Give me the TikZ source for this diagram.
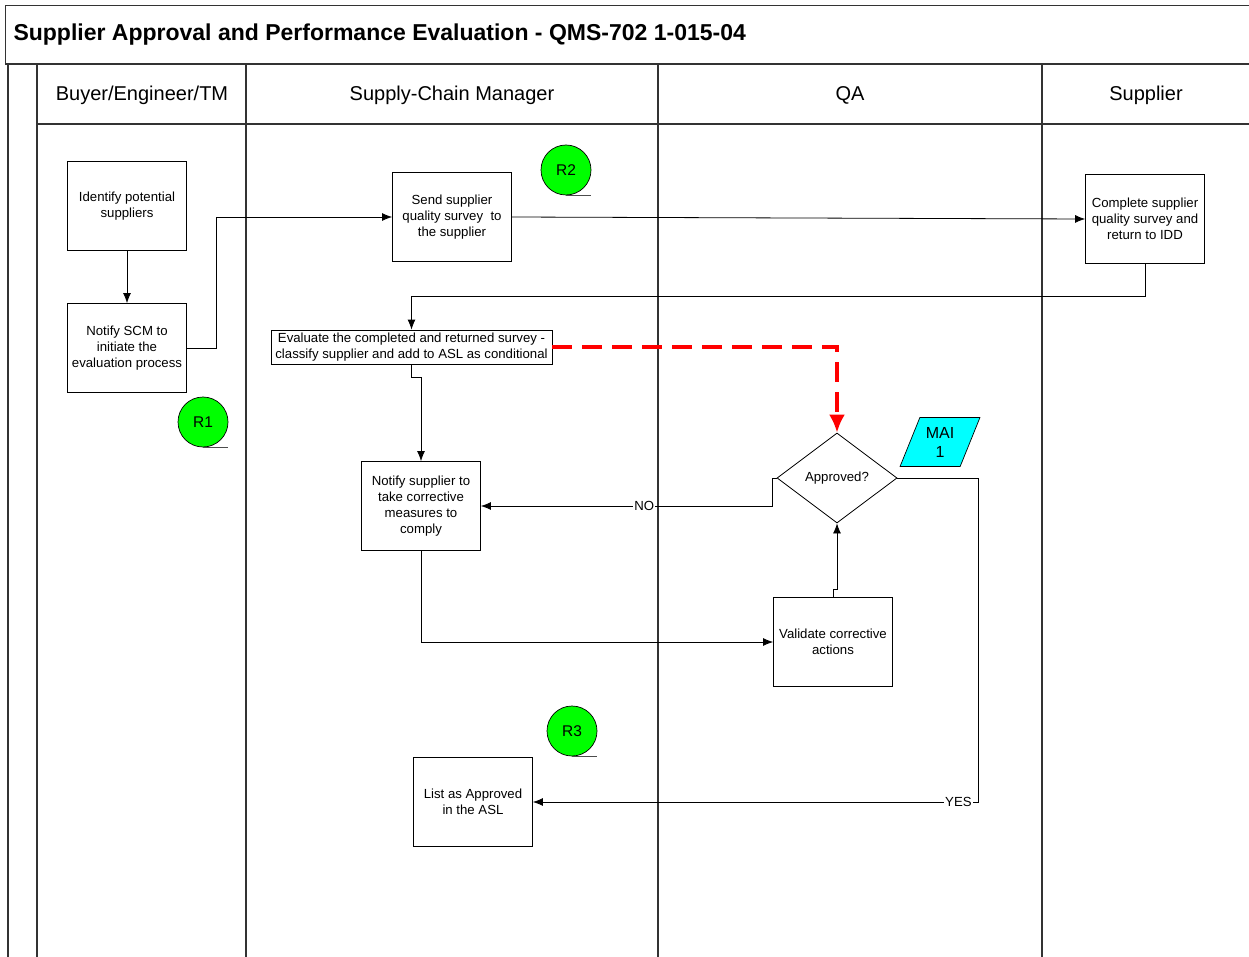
\documentclass[tikz,border=0pt]{standalone}
\usepackage{fontspec}
\setmainfont{Liberation Sans}
\usetikzlibrary{arrows.meta,shapes.geometric}
\definecolor{maicyan}{RGB}{0,255,255}
\definecolor{refgreen}{RGB}{0,255,0}

\begin{document}
\begin{tikzpicture}[x=1pt,y=-1pt,
  lane/.style={line width=1.4pt,color=black!80},
  box/.style={draw,fill=white,line width=0.8pt,minimum width=119pt,minimum height=89pt,
    align=center,inner sep=1pt,font=\fontsize{13.2}{16}\selectfont},
  refmark/.style={circle,draw,fill=refgreen,line width=0.7pt,minimum size=50pt,inner sep=0pt,
    font=\fontsize{15.5}{18}\selectfont},
  arr/.style={-{Latex[length=10pt,width=8pt]},line width=0.8pt},
  lbl/.style={fill=white,inner sep=1pt,font=\fontsize{13.2}{15}\selectfont}]
\useasboundingbox[fill=white] (0,0) rectangle (1249,957);
% frame and lanes
\draw[line width=0.9pt,color=black!80] (5,64) -- (5,5) -- (1249,5);
\draw[line width=1.8pt,color=black!80] (5,64) -- (1249,64);
\draw[lane] (37,124) -- (1249,124);
\foreach \x in {8,37,246,658,1042}
  \draw[lane] (\x,64) -- (\x,957);
\node[anchor=west,font=\fontsize{23}{26}\selectfont\bfseries] (title) at (10,35)
  {Supplier Approval and Performance Evaluation - QMS-702 1-015-04};
\foreach \x/\t in {142/{Buyer/Engineer/TM},452/{Supply-Chain Manager},850/{QA},1146/{Supplier}}
  \node[font=\fontsize{20}{23}\selectfont] at (\x,95) {\t};

% steps
\node[box] (identify) at (127,206) {Identify potential\\suppliers};
\node[box] (notifyscm) at (127,348) {Notify SCM to\\initiate the\\evaluation process};
\node[box] (send) at (452,217) {Send supplier\\quality survey\ \ to\\the supplier};
\node[box] (complete) at (1145,219) {Complete supplier\\quality survey and\\return to IDD};
\node[box,minimum width=281pt,minimum height=34pt] (evaluate) at (411.5,347)
  {Evaluate the completed and returned survey -\\classify supplier and add to ASL as conditional};
\node[diamond,draw,fill=white,line width=0.8pt,aspect=1.33,minimum width=120pt,minimum height=90pt,
  inner sep=0pt,font=\fontsize{13.2}{15}\selectfont] (approved) at (837,478) {Approved?};
\node[trapezium,trapezium left angle=65,trapezium right angle=115,trapezium stretches=true,
  draw,fill=maicyan,line width=0.7pt,minimum width=80pt,minimum height=49pt,inner sep=0pt,
  align=center,font=\fontsize{16}{19}\selectfont] (mai) at (940,442) {MAI\\1};
\node[box] (notifysup) at (421,506) {Notify supplier to\\take corrective\\measures to\\comply};
\node[box] (validate) at (833,642) {Validate corrective\\actions};
\node[box] (listasl) at (473,802) {List as Approved\\in the ASL};

% reference marks
\node[refmark] (r1) at (203,422) {R1};
\node[refmark] (r2) at (566,170) {R2};
\node[refmark] (r3) at (572,731) {R3};
\foreach \r in {r1,r2,r3}
  \draw[line width=0.8pt,color=black!70] (\r.south) -- ++(25,0);

% flow
\draw[arr] (identify) -- (notifyscm);
\draw[arr] (notifyscm.east) -- ++(29,0) |- (send.west);
\draw[arr] (send.east) -- (complete.west);
\draw[arr] (complete.south) -- ++(0,33) -| (evaluate.north);
\draw[arr] (evaluate.south) -- ++(0,13) -| (notifysup.north);
\draw[-{Latex[length=18pt,width=16pt]},red,line width=3.2pt,dash pattern=on 20pt off 10pt]
  (evaluate.east) -| (approved.north);
\draw[arr] (approved.west) -- ++(-4,0) |- node[lbl,pos=0.72] {NO} (notifysup.east);
\draw[arr] (notifysup.south) |- (validate.west);
\draw[arr] (validate.north) -- ++(0,-8) -| (approved.south);
\coordinate (yesturn) at (978,478);
\draw[arr] (approved.east) -- (yesturn) |- node[lbl,pos=0.522] {YES} (listasl.east);
\end{tikzpicture}
\end{document}
